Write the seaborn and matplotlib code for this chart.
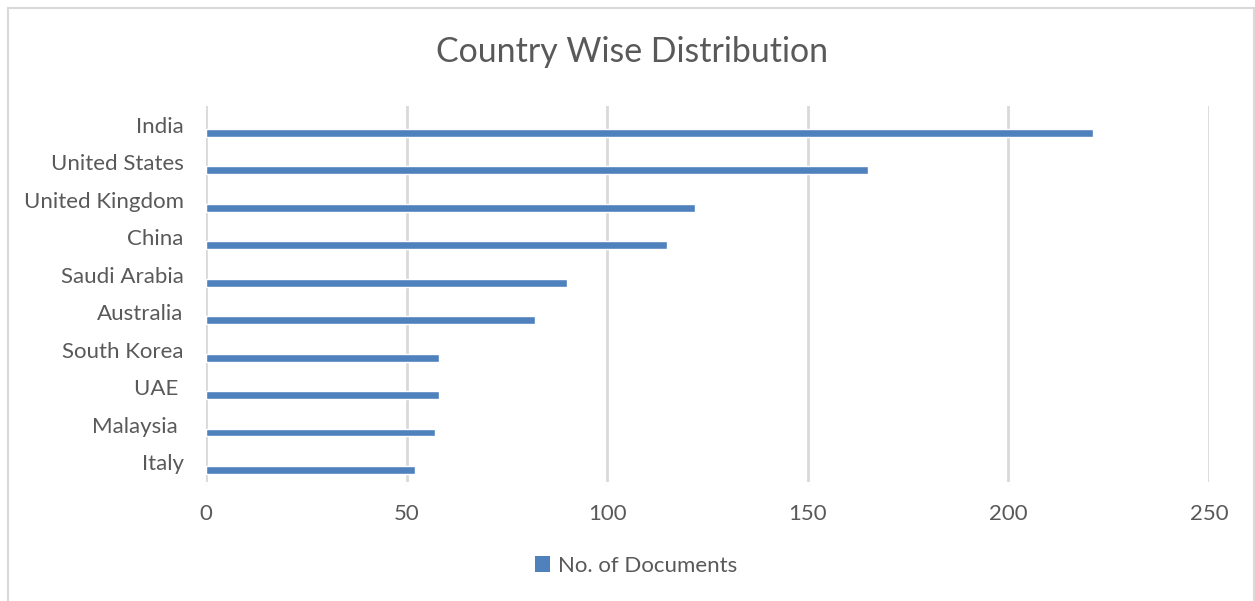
import matplotlib
matplotlib.use("Agg")
import matplotlib.pyplot as plt
import matplotlib.transforms as mtransforms
from matplotlib.patches import Rectangle, Patch
import seaborn as sns
import pandas as pd

countries = ["India", "United States", "United Kingdom", "China", "Saudi Arabia",
             "Australia", "South Korea", "UAE ", "Malaysia ", "Italy"]
documents = [221, 165, 122, 115, 90, 82, 58, 58, 57, 52]
x_ticks = [0, 50, 100, 150, 200, 250]
series_name = "No. of Documents"
title = "Country Wise Distribution"

df = pd.DataFrame({"Country": countries, "Documents": documents})

sns.set_style("white")
plt.rcParams["font.family"] = ["Lato", "DejaVu Sans"]

text_color = "#595959"
bar_color = "#4f81bd"
grid_color = "#d9d9d9"

fig = plt.figure(figsize=(12.55, 6.01), dpi=100)
ax = fig.add_axes([206 / 1255, (601 - 482) / 601, (1209 - 206) / 1255, (482 - 106) / 601])

sns.barplot(data=df, x="Documents", y="Country", orient="h", color=bar_color,
            width=0.21, saturation=1, ax=ax, zorder=3)

ax.set_xlim(0, 250)
ax.set_ylim(9.32, -0.72)
ax.set_xticks(x_ticks)
ax.set_xticklabels([str(t) for t in x_ticks])
ax.set_xlabel("")
ax.set_ylabel("")
ax.grid(axis="x", color=grid_color, linewidth=2, zorder=0)
ax.grid(axis="y", visible=False)
for s in ax.spines.values():
    s.set_visible(False)
ax.tick_params(axis="both", length=0, colors=text_color, labelsize=16)
ax.tick_params(axis="x", pad=16)
ax.tick_params(axis="y", pad=16)

offset = mtransforms.ScaledTranslation(0, 8 / 100, fig.dpi_scale_trans)
for lab in ax.get_yticklabels():
    lab.set_transform(lab.get_transform() + offset)

fig.text(632 / 1255, 1 - 52 / 601, title, ha="center", va="center",
         fontsize=24.4, color=text_color)

handles = [Patch(facecolor=bar_color, edgecolor="none", label=series_name)]
fig.legend(handles=handles, loc="center", bbox_to_anchor=(636 / 1255, 1 - 566 / 601),
           frameon=False, fontsize=16, labelcolor=text_color, handlelength=0.7,
           handleheight=0.7, handletextpad=0.35)

fig.patches.append(Rectangle((8 / 1255, -0.02), (1254 - 8) / 1255, 1.02 - 8 / 601,
                             transform=fig.transFigure, fill=False,
                             edgecolor=grid_color, linewidth=1.5))

fig.savefig("out.png", dpi=100, facecolor="white")
